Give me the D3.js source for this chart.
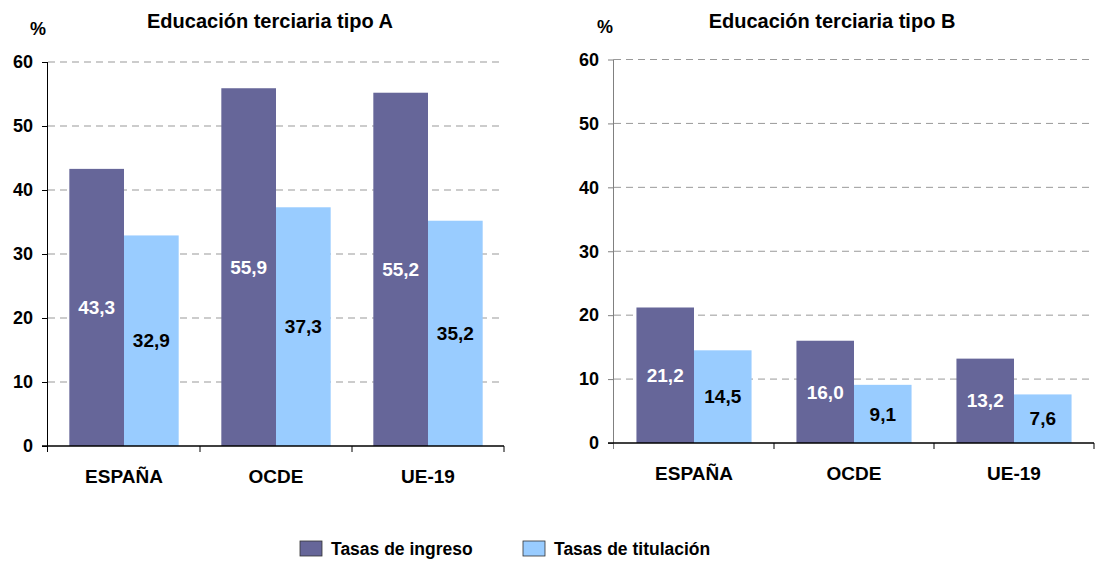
<!DOCTYPE html>
<html lang="es">
<head>
<meta charset="UTF-8">
<title>Tasas de ingreso y titulación</title>
<script src="https://d3js.org/d3.v7.min.js"></script>
<style>
  body { margin: 0; background: #fff; }
  svg text { font-family: "Liberation Sans", Arial, sans-serif; font-weight: bold; }
</style>
</head>
<body>
<svg id="grafico" width="1101" height="562"></svg>
<script>
  // datos
  const categorias = ["ESPAÑA", "OCDE", "UE-19"];
  const series = ["Tasas de ingreso", "Tasas de titulación"];
  const ingresoA = [43.3, 55.9, 55.2];
  const titulacionA = [32.9, 37.3, 35.2];
  const ingresoB = [21.2, 16.0, 13.2];
  const titulacionB = [14.5, 9.1, 7.6];
  const ticksY = [0, 10, 20, 30, 40, 50, 60];

  const colores = ["#666699", "#99ccff"];
  const coloresTexto = ["#ffffff", "#000000"];
  const fmt = v => d3.format(".1f")(v).replace(".", ",");

  const svg = d3.select("#grafico");

  function panel(cfg) {
    const x = d3.scaleBand().domain(categorias).range([cfg.x0, cfg.x1]).padding(0);
    const y = d3.scaleLinear().domain([0, 60]).range([cfg.y0, cfg.y1]);
    const xs = d3.scaleBand().domain(series)
      .range([0, x.bandwidth()]).paddingInner(0).paddingOuter(0.39);

    const g = svg.append("g");

    // lineas de cuadricula
    g.selectAll(".grid").data(ticksY.filter(t => t > 0)).enter().append("line")
      .attr("x1", cfg.x0).attr("x2", cfg.x1)
      .attr("y1", d => y(d)).attr("y2", d => y(d))
      .attr("stroke", "#999").attr("stroke-width", 1)
      .attr("stroke-dasharray", "7,5");

    const filas = categorias.map((c, i) => ({ cat: c, vals: [cfg.ingreso[i], cfg.titulacion[i]] }));

    const grupo = g.selectAll(".cat").data(filas).enter().append("g")
      .attr("transform", d => `translate(${x(d.cat)},0)`);

    grupo.selectAll("rect").data(d => d.vals.map((v, j) => ({ s: series[j], v, j })))
      .enter().append("rect")
      .attr("x", d => xs(d.s))
      .attr("y", d => y(d.v))
      .attr("width", xs.bandwidth())
      .attr("height", d => y(0) - y(d.v))
      .attr("fill", d => colores[d.j]);

    grupo.selectAll("text").data(d => d.vals.map((v, j) => ({ s: series[j], v, j })))
      .enter().append("text")
      .attr("x", d => xs(d.s) + xs.bandwidth() / 2)
      .attr("y", d => y(d.v / 2))
      .attr("dy", "0.35em")
      .attr("text-anchor", "middle")
      .attr("font-size", 19)
      .attr("fill", d => coloresTexto[d.j])
      .text(d => fmt(d.v));

    // eje Y
    const ejeY = g.append("g")
      .attr("transform", `translate(${cfg.x0},0)`)
      .call(d3.axisLeft(y).tickValues(ticksY).tickSize(6).tickPadding(9));
    ejeY.selectAll("text").attr("font-size", 18).attr("fill", "#000");
    ejeY.selectAll(".tick line").attr("stroke", cfg.colorEje);
    ejeY.select(".domain").attr("stroke", cfg.colorEje).attr("d", `M-0.5,${cfg.y0 + 6}V${cfg.y1}`);

    // eje X
    const ejeX = g.append("g").attr("transform", `translate(0,${cfg.y0})`);
    ejeX.append("line").attr("x1", cfg.x0 - 6).attr("x2", cfg.x1)
      .attr("stroke", "#000").attr("stroke-width", 1.5);
    ejeX.selectAll(".tk").data(categorias.slice(1).map(c => x(c)).concat([cfg.x1])).enter().append("line")
      .attr("x1", d => d).attr("x2", d => d).attr("y1", 0).attr("y2", 6)
      .attr("stroke", "#000");
    ejeX.selectAll(".lab").data(categorias).enter().append("text")
      .attr("x", d => x(d) + x.bandwidth() / 2)
      .attr("y", 37)
      .attr("text-anchor", "middle")
      .attr("font-size", 19)
      .text(d => d);

    svg.append("text").attr("x", cfg.pctX).attr("y", cfg.pctY)
      .attr("font-size", 18).text("%");
    svg.append("text").attr("x", cfg.tituloX).attr("y", cfg.tituloY)
      .attr("text-anchor", "middle").attr("font-size", 20).text(cfg.titulo);
  }

  panel({ x0: 48, x1: 504, y0: 446, y1: 62, ingreso: ingresoA, titulacion: titulacionA,
          colorEje: "#000", titulo: "Educación terciaria tipo A", tituloX: 270, tituloY: 28, pctX: 30, pctY: 35 });
  panel({ x0: 614, x1: 1094, y0: 443, y1: 59.5, ingreso: ingresoB, titulacion: titulacionB,
          colorEje: "#808080", titulo: "Educación terciaria tipo B", tituloX: 832, tituloY: 28, pctX: 597, pctY: 33 });

  // leyenda
  const leyenda = svg.append("g");
  const posLeyenda = [300, 523];
  series.forEach((s, i) => {
    leyenda.append("rect").attr("x", posLeyenda[i]).attr("y", 541)
      .attr("width", 22).attr("height", 15)
      .attr("fill", colores[i]).attr("stroke", "#333").attr("stroke-width", 0.8);
    leyenda.append("text").attr("x", posLeyenda[i] + 31).attr("y", 555)
      .attr("font-size", 17.5).text(s);
  });
</script>
</body>
</html>
